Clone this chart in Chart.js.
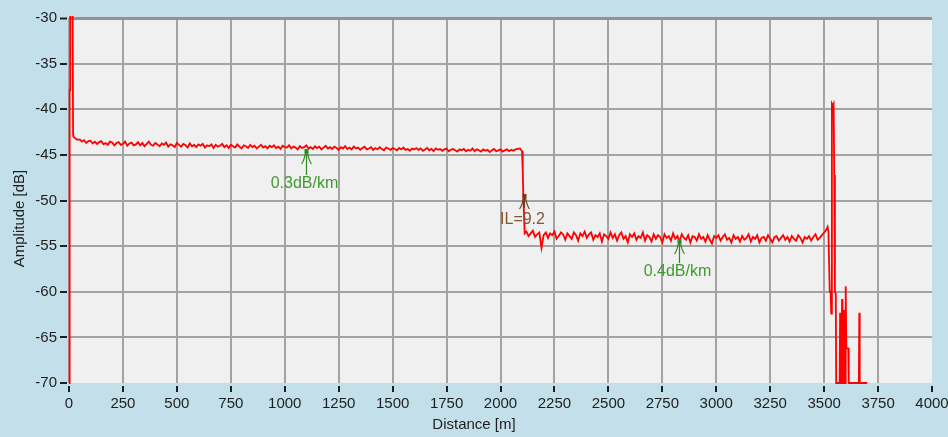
<!DOCTYPE html>
<html>
<head>
<meta charset="utf-8">
<script src="https://cdn.jsdelivr.net/npm/chart.js@4.4.1/dist/chart.umd.min.js"></script>
<style>
  html, body { margin: 0; padding: 0; background: #c3dfe9; }
  canvas { display: block; }
</style>
</head>
<body>
<canvas id="otdrChart" width="948" height="437"></canvas>
<script>
// Axis ticks
const xTicks = [0, 250, 500, 750, 1000, 1250, 1500, 1750, 2000, 2250, 2500, 2750, 3000, 3250, 3500, 3750, 4000];
const yTicks = [-30, -35, -40, -45, -50, -55, -60, -65, -70];

// Launch pulse (distance m, amplitude dB)
const startDist = [0, 3, 5, 6, 16, 19];
const startAmp = [-70, -37.9, -37.9, -25, -25, -42.8];

// First fibre section, one sample every 10 m from 20 m
const fiber1Start = 20;
const sampleStep = 10;
const fiber1Amp = [
  -43.0, -43.2, -43.35, -43.3, -43.55, -43.4, -43.7, -43.5, -43.45, -43.75,
  -43.55, -43.8, -43.6, -43.5, -43.85, -43.7, -43.9, -43.55, -43.65, -43.95,
  -43.7, -43.6, -43.9, -43.8, -43.55, -44.0, -43.75, -43.65, -43.95, -43.85,
  -43.6, -43.95, -43.7, -44.05, -43.8, -43.55, -43.9, -44.0, -43.7, -43.85,
  -44.05, -43.75, -43.9, -43.65, -44.1, -43.85, -43.95, -44.15, -43.7, -43.9,
  -44.1, -43.8, -43.95, -44.2, -43.75, -44.05, -43.9, -44.15, -43.85, -44.0,
  -43.8, -44.2, -43.95, -44.05, -43.85, -44.25, -43.9, -44.1, -44.0, -43.8,
  -44.15, -43.95, -44.25, -43.9, -44.05, -44.2, -43.85, -44.1, -44.3, -43.95,
  -44.05, -44.25, -43.9, -44.15, -44.0, -44.3, -44.1, -43.9, -44.2, -44.05,
  -44.3, -44.0, -44.15, -43.95, -44.25, -44.1, -44.35, -44.0, -44.15, -44.2,
  -43.95, -44.3, -44.1, -44.2, -44.4, -44.05, -44.25, -44.15, -43.95, -44.3,
  -44.15, -44.35, -44.05, -44.25, -44.1, -44.4, -44.2, -44.0, -44.3, -44.15,
  -44.35, -44.1, -44.25, -44.45, -44.15, -44.3, -44.05, -44.35, -44.2, -44.4,
  -44.1, -44.3, -44.2, -44.45, -44.25, -44.1, -44.4, -44.3, -44.15, -44.45,
  -44.25, -44.4, -44.15, -44.35, -44.5, -44.2, -44.3, -44.45, -44.25, -44.35,
  -44.5, -44.25, -44.4, -44.2, -44.45, -44.35, -44.55, -44.3, -44.4, -44.25,
  -44.45, -44.3, -44.55, -44.4, -44.25, -44.5, -44.35, -44.6, -44.3, -44.45,
  -44.35, -44.55, -44.4, -44.3, -44.6, -44.45, -44.35, -44.5, -44.65, -44.4,
  -44.5, -44.35, -44.6, -44.45, -44.55, -44.3, -44.6, -44.4, -44.5, -44.65,
  -44.4, -44.55, -44.45, -44.7, -44.5, -44.35, -44.6, -44.5, -44.4, -44.65,
  -44.5, -44.4, -44.6, -44.45, -44.55, -44.4, -44.35, -44.3
];

// Splice / connector drop
const dropDist = [2100, 2103, 2106, 2112];
const dropAmp = [-44.6, -46.7, -49.6, -53.6];

// Second fibre section, one sample every 10 m from 2120 m
const fiber2Start = 2120;
const fiber2Amp = [
  -53.4, -53.9, -53.6, -53.3, -54.0, -53.7, -53.5, -55.2, -53.8, -53.5,
  -54.1, -53.6, -53.8, -53.4, -54.2, -53.9, -53.5, -53.7, -54.3, -53.6,
  -53.9, -54.2, -53.5, -53.8, -54.4, -53.6, -53.9, -53.4, -54.1, -53.7,
  -53.5, -54.3, -53.8, -54.0, -53.6, -54.5, -53.7, -53.9, -54.2, -53.5,
  -54.1, -53.7, -54.4, -53.8, -53.5, -54.2, -53.9, -54.6, -53.7, -54.0,
  -53.6, -54.3, -53.9, -54.1, -53.5, -54.4, -53.8, -54.0, -54.5, -53.7,
  -54.2, -53.8, -54.0, -54.6, -53.7, -54.1, -53.9, -54.4, -53.6, -54.2,
  -53.9, -54.5, -53.7, -54.1, -54.3, -53.8, -54.6, -53.9, -54.0, -54.4,
  -53.7, -54.2, -54.0, -54.5, -53.8, -54.3, -54.7, -53.9, -54.1, -53.8,
  -54.4, -54.0, -53.7, -54.3, -54.1, -54.6, -53.8, -54.2, -54.0, -54.5,
  -53.9, -54.3, -54.1, -53.7, -54.5, -54.0, -54.2, -53.8, -54.6, -54.1,
  -54.0, -54.4, -53.8, -54.2, -54.6, -54.0, -53.9, -54.4, -54.1, -53.8,
  -54.3, -54.0, -54.5, -53.9, -54.2, -54.4, -53.8, -54.1, -54.6, -54.0,
  -54.2, -53.9, -54.4, -54.0, -53.7, -54.3, -54.1, -53.8, -53.5, -53.2
];

// Fibre end reflection and noise floor
const endDist = [3516, 3520, 3526, 3530, 3533, 3536, 3540, 3544, 3547, 3550, 3554, 3556,
  3572, 3574, 3576, 3581, 3583, 3585, 3590, 3592, 3594, 3598, 3600, 3603, 3608, 3612, 3614,
  3661, 3663, 3665, 3700];
const endAmp = [-52.9, -53.4, -60.0, -60.0, -62.4, -39.4, -39.6, -39.4, -47.2, -60.0, -60.2, -70,
  -70, -62.3, -70, -70, -60.8, -70, -70, -62.0, -70, -70, -59.4, -66.2, -66.2, -66.2, -70,
  -70, -62.3, -70, -70];

// Event markers
const markerDist = [1097, 2109, 2827];
const markerAmp = [-44.45, -49.4, -54.3];
const markerText = ["0.3dB/km", "IL=9.2", "0.4dB/km"];

const markerStyle = [
  { arrow: "#2e8a1e", text: "#3f9a2e", shaft: 25, labelDy: 34 },
  { arrow: "#6e3d1c", text: "#84562c", shaft: 13, labelDy: 25 },
  { arrow: "#2e8a1e", text: "#3f9a2e", shaft: 23, labelDy: 32 },
];

// Build trace points
const tracePoints = [];
startDist.forEach((d, i) => tracePoints.push({ x: d, y: startAmp[i] }));
fiber1Amp.forEach((v, i) => tracePoints.push({ x: fiber1Start + i * sampleStep, y: v }));
dropDist.forEach((d, i) => tracePoints.push({ x: d, y: dropAmp[i] }));
fiber2Amp.forEach((v, i) => tracePoints.push({ x: fiber2Start + i * sampleStep, y: v }));
endDist.forEach((d, i) => tracePoints.push({ x: d, y: endAmp[i] }));

const fontFamily = "'Liberation Sans', Arial, sans-serif";

// Backgrounds: outer panel and plot area
const backgroundPlugin = {
  id: "background",
  beforeDraw(chart) {
    const { ctx, chartArea } = chart;
    ctx.save();
    ctx.fillStyle = "#c3dfe9";
    ctx.fillRect(0, 0, chart.width, chart.height);
    ctx.fillStyle = "#f0f0f0";
    ctx.fillRect(chartArea.left, chartArea.top, chartArea.right - chartArea.left, chartArea.bottom - chartArea.top);
    ctx.restore();
  },
};

// Arrow markers with labels
const markerPlugin = {
  id: "markers",
  afterDatasetsDraw(chart) {
    const { ctx } = chart;
    const xs = chart.scales.x;
    const ys = chart.scales.y;
    ctx.save();
    markerDist.forEach((d, i) => {
      const st = markerStyle[i];
      const px = Math.round(xs.getPixelForValue(d)) + 0.5;
      const py = Math.round(ys.getPixelForValue(markerAmp[i]));
      ctx.strokeStyle = st.arrow;
      ctx.fillStyle = st.arrow;
      ctx.lineWidth = 1.2;
      ctx.fillRect(px - 2, py - 1, 4, 4);
      ctx.beginPath();
      ctx.moveTo(px, py);
      ctx.lineTo(px, py + st.shaft);
      ctx.moveTo(px - 1, py + 2);
      ctx.quadraticCurveTo(px - 2, py + 10, px - 5, py + 14);
      ctx.moveTo(px + 1, py + 2);
      ctx.quadraticCurveTo(px + 2, py + 10, px + 5, py + 14);
      ctx.stroke();
      ctx.font = "16px " + fontFamily;
      ctx.fillStyle = st.text;
      ctx.textAlign = "center";
      ctx.textBaseline = "middle";
      ctx.fillText(markerText[i], px - 2, py + st.labelDy);
    });
    ctx.restore();
  },
};

// Axis titles, centred on the whole panel
const titlePlugin = {
  id: "axisTitles",
  afterDraw(chart) {
    const { ctx } = chart;
    ctx.save();
    ctx.font = "15px " + fontFamily;
    ctx.fillStyle = "#1e1e1e";
    ctx.textAlign = "center";
    ctx.textBaseline = "middle";
    ctx.fillText("Distance [m]", chart.width / 2, 425);
    ctx.translate(20, chart.height / 2);
    ctx.rotate(-Math.PI / 2);
    ctx.fillText("Amplitude [dB]", 0, 0);
    ctx.restore();
  },
};

const ctx = document.getElementById("otdrChart").getContext("2d");
const chart = new Chart(ctx, {
  type: "line",
  data: {
    datasets: [
      {
        data: tracePoints,
        borderColor: "#ff0000",
        borderWidth: 1.8,
        pointRadius: 0,
        tension: 0,
        fill: false,
        clip: 2,
      },
    ],
  },
  options: {
    responsive: false,
    animation: false,
    layout: { padding: { left: 0, top: 18, right: 16, bottom: 0 } },
    scales: {
      x: {
        type: "linear",
        min: 0,
        max: 4000,
        afterBuildTicks: (s) => { s.ticks = xTicks.map((v) => ({ value: v })); },
        afterFit: (s) => { s.height = 54; s.paddingLeft = 0; s.paddingRight = 0; },
        ticks: {
          autoSkip: false,
          maxRotation: 0,
          padding: 3,
          color: "#1e1e1e",
          font: { family: fontFamily, size: 15 },
          callback: (v) => String(v),
        },
        grid: {
          color: (c) => (c.tick && c.tick.value === 4000 ? "rgba(0,0,0,0)" : "#a3a3a3"),
          lineWidth: 2,
          drawTicks: true,
          tickLength: 9,
          tickColor: "#1e1e1e",
          tickWidth: 2,
          tickBorderDash: [0, 3, 6, 10],
        },
        border: { display: false },
      },
      y: {
        type: "linear",
        min: -70,
        max: -30,
        afterBuildTicks: (s) => { s.ticks = yTicks.map((v) => ({ value: v })); },
        afterFit: (s) => { s.width = 69; s.paddingTop = 0; s.paddingBottom = 0; },
        ticks: {
          padding: 3,
          color: "#1e1e1e",
          font: { family: fontFamily, size: 15 },
          callback: (v) => String(v),
        },
        grid: {
          color: (c) => {
            if (!c.tick) return "#a3a3a3";
            if (c.tick.value === -70) return "rgba(0,0,0,0)";
            if (c.tick.value === -30) return "#939393";
            return "#a3a3a3";
          },
          lineWidth: (c) => (c.tick && c.tick.value === -30 ? 3 : 2),
          drawTicks: true,
          tickLength: 9,
          tickColor: "#1e1e1e",
          tickWidth: 2,
          tickBorderDash: [7, 3],
        },
        border: { display: false },
      },
    },
    plugins: {
      legend: { display: false },
      tooltip: { enabled: false },
    },
  },
  plugins: [backgroundPlugin, markerPlugin, titlePlugin],
});
</script>
</body>
</html>
